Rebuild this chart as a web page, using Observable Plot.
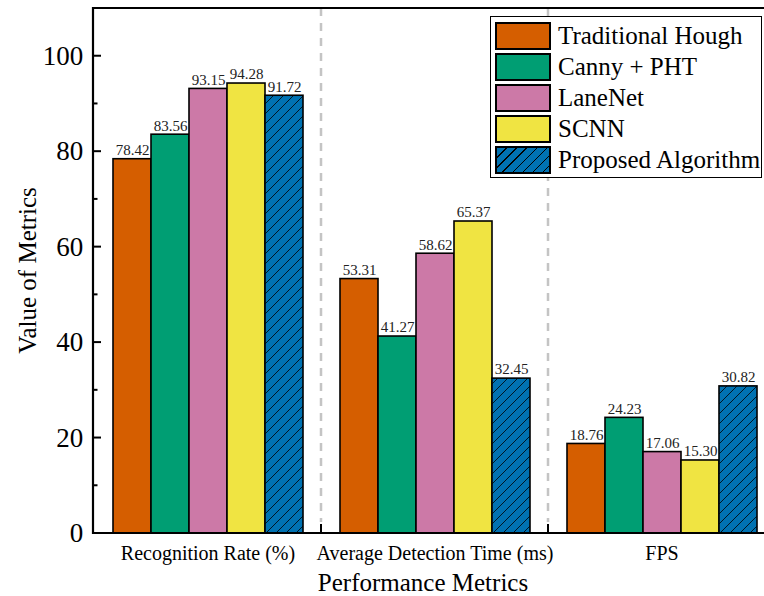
<!DOCTYPE html>
<html><head><meta charset="utf-8">
<script src="https://cdn.jsdelivr.net/npm/d3@7"></script>
<script src="https://cdn.jsdelivr.net/npm/@observablehq/plot@0.6"></script>
<style>
body{margin:0;background:#fff;}
#chart{position:relative;width:764px;height:596px;font-family:"Liberation Serif","Times New Roman",Tinos,"DejaVu Serif",serif;overflow:hidden;}
#legend{position:absolute;left:490px;top:16px;width:272px;box-sizing:border-box;border:1.5px solid #000;background:#fff;padding:3px 0 2px 4px;}
.row{display:flex;align-items:center;height:31px;}
.sw{width:56px;height:28px;box-sizing:border-box;border:2px solid #000;margin-right:7px;flex:none;}
.lab{font-size:25px;color:#000;white-space:nowrap;line-height:1;}
</style></head><body><div id="chart"></div>
<script>
const metrics = ["Recognition Rate (%)", "Average Detection Time (ms)", "FPS"];
const methods = ["Traditional Hough", "Canny + PHT", "LaneNet", "SCNN", "Proposed Algorithm"];
const colors = ["#D55E00", "#009E73", "#CC79A7", "#F0E442", "#0072B2"];
const recognitionRate = [78.42, 83.56, 93.15, 94.28, 91.72];
const detectionTime = [53.31, 41.27, 58.62, 65.37, 32.45];
const fpsValues = [18.76, 24.23, 17.06, 15.30, 30.82];
const yTicks = [0, 20, 40, 60, 80, 100];
const yMinorTicks = [10, 30, 50, 70, 90];
const hatched = "Proposed Algorithm";

const series = [recognitionRate, detectionTime, fpsValues];
const rows = [];
metrics.forEach((m, i) => methods.forEach((k, j) => rows.push({metric: m, method: k, value: series[i][j]})));

const FONT = '"Liberation Serif","Times New Roman",Tinos,"DejaVu Serif",serif';
const W = 764, H = 596, ML = 93, MR = -12, MT = 8, MB = 63;
const PAD_IN = 0.16, PAD_OUT = 0.08;
// offset of first facet from the left margin (y axis is drawn relative to the facet)
const facetStep = (W - MR - ML) / (metrics.length - PAD_IN + 2 * PAD_OUT);
const facetOffset = facetStep * PAD_OUT;

const plot = Plot.plot({
  width: W, height: H,
  marginLeft: ML, marginRight: MR, marginTop: MT, marginBottom: MB,
  style: {fontFamily: FONT, color: "#000", background: "#fff", overflow: "visible"},
  fx: {domain: metrics, paddingInner: PAD_IN, paddingOuter: PAD_OUT, label: null},
  x: {domain: methods, padding: 0, axis: null},
  y: {domain: [0, 110], label: null},
  color: {domain: methods, range: colors},
  marks: [
    Plot.barY(rows.filter(d => d.method !== hatched), {fx: "metric", x: "method", y: "value", fill: "method", stroke: "#000", strokeWidth: 1.6}),
    Plot.barY(rows.filter(d => d.method === hatched), {fx: "metric", x: "method", y: "value", fill: "url(#hatch)", stroke: "#000", strokeWidth: 1.6}),
    Plot.text(rows, {fx: "metric", x: "method", y: "value", text: d => d.value.toFixed(2), dy: -9, fontSize: 15, fill: "#222"}),
    Plot.axisY(yTicks, {tickSize: 0, tickPadding: facetOffset + 11, fontSize: 27, label: null}),
    Plot.axisFx({anchor: "bottom", tickSize: 0, tickPadding: 12, fontSize: 20, label: null})
  ]
});

const svg = d3.select(plot);
const defs = svg.insert("defs", ":first-child");
const pat = defs.append("pattern").attr("id", "hatch").attr("patternUnits", "userSpaceOnUse").attr("width", 10).attr("height", 10);
pat.append("rect").attr("width", 10).attr("height", 10).attr("fill", colors[4]);
pat.append("path").attr("d", "M0,10 L10,0 M-2,2 L2,-2 M8,12 L12,8").attr("stroke", "#000").attr("stroke-width", 0.8);

const fxS = plot.scale("fx"), yS = plot.scale("y");
const y0 = yS.apply(0), yTop = yS.apply(110);
const xL = ML, xR = W - MR;
const g = svg.append("g");
// separators between metric groups
for (let i = 0; i < metrics.length - 1; i++) {
  const xs = (fxS.apply(metrics[i]) + fxS.bandwidth + fxS.apply(metrics[i + 1])) / 2;
  g.append("line").attr("x1", xs).attr("x2", xs).attr("y1", yTop).attr("y2", y0 - 11)
    .attr("stroke", "#c4c4c4").attr("stroke-width", 2.5).attr("stroke-dasharray", "8,7");
  g.append("line").attr("x1", xs).attr("x2", xs).attr("y1", y0 - 9).attr("y2", y0)
    .attr("stroke", "#000").attr("stroke-width", 2);
}
// inward y ticks
yTicks.forEach(t => g.append("line").attr("x1", xL).attr("x2", xL + 8).attr("y1", yS.apply(t)).attr("y2", yS.apply(t)).attr("stroke", "#000").attr("stroke-width", 2));
yMinorTicks.forEach(t => g.append("line").attr("x1", xL).attr("x2", xL + 4.5).attr("y1", yS.apply(t)).attr("y2", yS.apply(t)).attr("stroke", "#000").attr("stroke-width", 2));
// frame
g.append("path").attr("d", `M${xR},${yTop}H${xL}V${y0}H${xR}`).attr("fill", "none").attr("stroke", "#000").attr("stroke-width", 2.2);
// axis titles
g.append("text").attr("transform", `translate(27,${(y0 + yTop) / 2}) rotate(-90)`).attr("text-anchor", "middle")
  .attr("dominant-baseline", "central").attr("font-size", 25).attr("fill", "#000").text("Value of Metrics");
g.append("text").attr("x", 423).attr("y", 582).attr("text-anchor", "middle")
  .attr("dominant-baseline", "central").attr("font-size", 25).attr("fill", "#000").text("Performance Metrics");

const chart = document.getElementById("chart");
chart.appendChild(plot);

const legend = document.createElement("div");
legend.id = "legend";
methods.forEach((m, i) => {
  const row = document.createElement("div"); row.className = "row";
  const sw = document.createElement("div"); sw.className = "sw";
  sw.style.background = m === hatched
    ? `repeating-linear-gradient(135deg, ${colors[i]} 0px, ${colors[i]} 6.3px, #000 6.3px, #000 7.1px)`
    : colors[i];
  const lab = document.createElement("span"); lab.className = "lab"; lab.textContent = m;
  row.appendChild(sw); row.appendChild(lab); legend.appendChild(row);
});
chart.appendChild(legend);
</script></body></html>
